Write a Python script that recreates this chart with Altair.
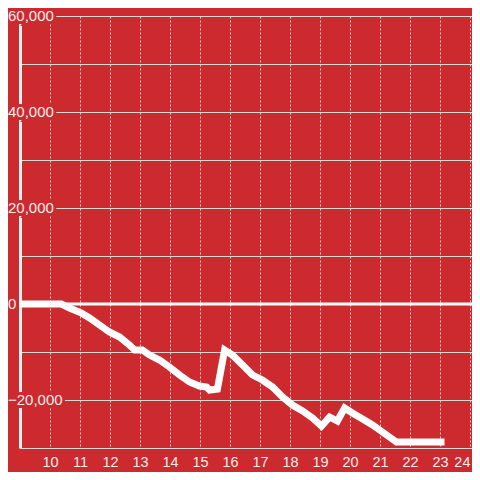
import altair as alt
import pandas as pd

hours = [9.0, 10.38, 10.65, 11.05, 11.32, 11.65, 11.98, 12.32, 12.65, 12.82, 13.08, 13.32,
         13.65, 13.98, 14.32, 14.65, 14.98, 15.22, 15.32, 15.58, 15.82, 16.08, 16.42, 16.75,
         17.08, 17.42, 17.75, 18.08, 18.42, 18.75, 19.05, 19.32, 19.58, 19.82, 20.08, 20.42,
         20.75, 21.08, 21.55, 23.15]
values = [0, 0, -833, -1875, -2917, -4375, -5833, -6875, -8542, -9583, -9583, -10625,
          -11667, -13125, -14792, -16250, -17083, -17292, -17917, -17708, -9583, -10625, -12708, -14792,
          -15833, -17292, -19375, -21042, -22292, -23750, -25417, -23542, -24375, -21667, -22708, -23958,
          -25208, -26667, -28750, -28750]
x_ticks = list(range(10, 25))
y_grid = list(range(-30000, 60001, 10000))
y_labels = [60000, 40000, 20000, 0, -20000]

BG = "#cc2a2e"
FG = "#f6ecec"
GRID = "#d8d8d8"
FONT = "Liberation Sans"

W = 452
H = 432
PX_PER_HOUR = 30

df = pd.DataFrame({"h": hours, "v": values})
lab = pd.DataFrame({"v": y_labels})
zero = pd.DataFrame({"v": [0]})

xs = alt.Scale(domain=[9, 9 + W / PX_PER_HOUR], nice=False)
ys = alt.Scale(domain=[-30000, 60000], nice=False)

base_x = alt.X("h:Q", scale=xs, title=None,
               axis=alt.Axis(values=x_ticks, grid=True, gridDash=[2, 2], gridColor=GRID,
                             gridWidth=1, ticks=False, domain=False, labelFontSize=14.5,
                             labelColor=FG, labelFont=FONT, labelPadding=7,
                             labelBaseline="top", labelFlush=5))
base_y = alt.Y("v:Q", scale=ys, title=None,
               axis=alt.Axis(values=y_grid, grid=True, gridColor=GRID, gridWidth=1,
                             ticks=False, labels=False, domain=True, domainColor="#f4f4f4",
                             domainWidth=3))

line = alt.Chart(df).mark_line(color="white", strokeWidth=7, strokeJoin="miter",
                               strokeCap="butt").encode(x=base_x, y=base_y)

rule = alt.Chart(zero).mark_rule(color="white", strokeWidth=3).encode(
    y=alt.Y("v:Q", scale=ys), x=alt.value(0), x2=alt.value(W))

halo = alt.Chart(lab).mark_text(align="left", baseline="middle", fontSize=15, font=FONT,
                                color=BG, stroke=BG, strokeWidth=6).encode(
    y=alt.Y("v:Q", scale=ys), x=alt.value(-12), text=alt.Text("v:Q", format=","))
text = alt.Chart(lab).mark_text(align="left", baseline="middle", fontSize=15, font=FONT,
                                color=FG).encode(
    y=alt.Y("v:Q", scale=ys), x=alt.value(-12), text=alt.Text("v:Q", format=","))

chart = alt.layer(line, rule, halo, text).properties(
    width=W, height=H, background=BG,
    padding={"left": 12, "top": 8, "right": 0, "bottom": 24},
    autosize=alt.AutoSizeParams(type="none"),
).configure_view(strokeWidth=0)

chart.save("out.html", embed_options={"renderer": "svg", "actions": False})
